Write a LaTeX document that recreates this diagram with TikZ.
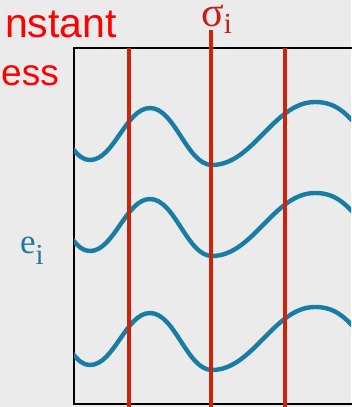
\documentclass[tikz,border=0pt]{standalone}
\usepackage{fontspec}
\setmainfont{Liberation Serif}
\newfontfamily\titlefont{Liberation Sans}
\usepackage{xcolor}
\usetikzlibrary{positioning}
\definecolor{bgGrey}{RGB}{235,235,235}
\definecolor{lineRed}{RGB}{205,35,10}
\definecolor{waveTeal}{RGB}{24,125,165}
\definecolor{sigmaRed}{RGB}{200,30,25}
\definecolor{eTeal}{RGB}{35,120,160}

\begin{document}
\begin{tikzpicture}[x=1pt,y=-1pt,
  frame/.style={draw=black,line width=2pt},
  redline/.style={draw=lineRed,line width=4pt},
  wave/.style={draw=waveTeal,line width=4.4pt,line cap=round},
  title/.style={inner sep=0pt,anchor=base east,text=red,font=\titlefont\fontsize{41}{44}\selectfont}
]
\fill[bgGrey] (0,0) rectangle (351,407);
\useasboundingbox (0,0) rectangle (351,407);
\node[title] (t1) at (117,37) {nstant};
\node[title,font=\titlefont\fontsize{37}{40}\selectfont] (t2) at (59,85) {ess};
\draw[frame] (360,48) -- (74,48) -- (74,404) -- (360,404);
\begin{scope}
\clip (74,0) rectangle (351,407);
\foreach \dy in {0,91,205}
  \draw[wave,shift={(0,\dy)}] (72,148) .. controls (79,156) and (83,160) .. (90,160)
    .. controls (114,160) and (126,108) .. (150,108)
    .. controls (175,108) and (187,165) .. (212,165)
    .. controls (253,165) and (274,102) .. (315,102)
    .. controls (337,102) and (347,114) .. (366,136);
\end{scope}
\draw[redline] (129,48) -- (129,410);
\draw[redline] (211,30) -- (211,410);
\draw[redline] (285,48) -- (285,410);
\node[inner sep=0pt,anchor=base west,text=sigmaRed] (sig) at (201,26)
  {\fontsize{42}{44}\selectfont σ\raisebox{-7pt}{\fontsize{29}{30}\selectfont i}};
\node[inner sep=0pt,anchor=base west,text=eTeal] (ei) at (20,253)
  {\fontsize{35}{36}\selectfont e\raisebox{-11pt}{\fontsize{29}{30}\selectfont i}};
\end{tikzpicture}
\end{document}
